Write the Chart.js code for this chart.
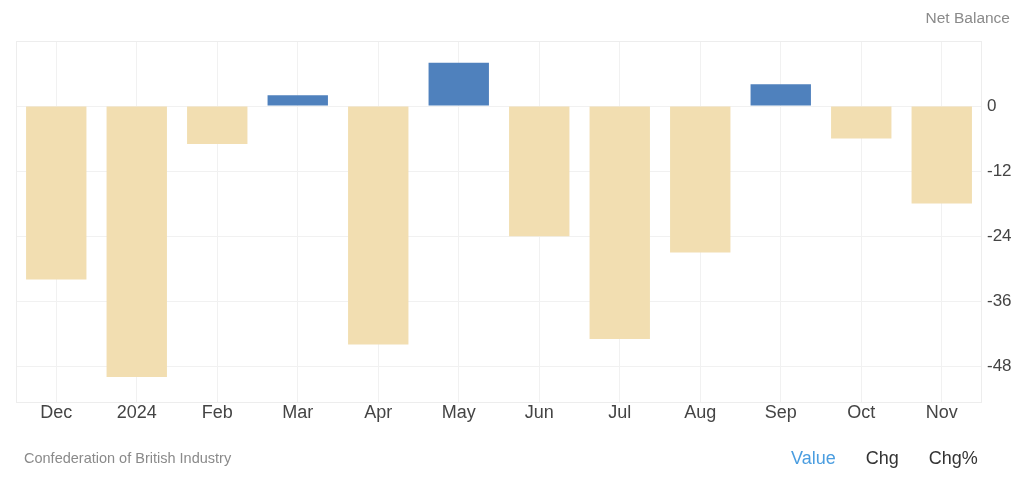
<!DOCTYPE html>
<html>
<head>
<meta charset="utf-8">
<script src="https://cdn.jsdelivr.net/npm/chart.js@4.4.1/dist/chart.umd.min.js"></script>
<style>
  html, body { margin: 0; padding: 0; background: #fff; }
  #wrap { position: relative; width: 1024px; height: 482px; font-family: "Liberation Sans", Arial, sans-serif; }
  #wrap canvas { position: absolute; left: 0; top: 0; }
  .txt { position: absolute; white-space: nowrap; line-height: 1; }
  #unit { right: 14px; top: 10px; font-size: 15.5px; color: #8a8a8a; }
  #src { left: 24px; top: 451px; font-size: 14.5px; color: #8a8a8a; }
  #tabs { left: 791px; top: 449px; font-size: 18px; color: #333; }
  #tabs span { margin-right: 30px; }
  #tabs span.on { color: #4a9de0; }
</style>
</head>
<body>
<div id="wrap">
  <canvas id="c" width="1024" height="482"></canvas>
  <div class="txt" id="unit">Net Balance</div>
  <div class="txt" id="src">Confederation of British Industry</div>
  <div class="txt" id="tabs"><span class="on">Value</span><span>Chg</span><span style="margin-right:0">Chg%</span></div>
</div>
<script>
const categories = ["Dec", "2024", "Feb", "Mar", "Apr", "May", "Jun", "Jul", "Aug", "Sep", "Oct", "Nov"];
const values = [-32, -50, -7, 2, -44, 8, -24, -43, -27, 4, -6, -18];
const yTicks = [0, -12, -24, -36, -48];
const yMin = -54.6;
const yMax = 12;

const POS = "#4f81bd";
const NEG = "#f2deb1";

const plotBorder = {
  id: "plotBorder",
  beforeDatasetsDraw(chart) {
    const a = chart.chartArea, ctx = chart.ctx;
    ctx.save();
    ctx.strokeStyle = "#ededed";
    ctx.lineWidth = 1;
    ctx.strokeRect(Math.round(a.left) + 0.5, Math.round(a.top) + 0.5, Math.round(a.right - a.left) - 1, Math.round(a.bottom - a.top));
    ctx.restore();
  }
};

new Chart(document.getElementById("c"), {
  type: "bar",
  data: {
    labels: categories,
    datasets: [{
      data: values,
      backgroundColor: values.map(v => v >= 0 ? POS : NEG),
      borderWidth: 0,
      barPercentage: 0.75,
      categoryPercentage: 1.0
    }]
  },
  options: {
    responsive: false,
    animation: false,
    layout: { padding: { left: 16, top: 41, right: 0, bottom: 0 } },
    plugins: { legend: { display: false }, tooltip: { enabled: false } },
    scales: {
      x: {
        offset: true,
        grid: { offset: false, color: "#f1f1f1", drawTicks: false },
        border: { display: false },
        ticks: { color: "#444", font: { family: "Liberation Sans", size: 18 }, padding: 0, maxRotation: 0, autoSkip: false },
        afterFit(s) { s.height = 80; }
      },
      y: {
        position: "right",
        min: yMin,
        max: yMax,
        afterBuildTicks(s) { s.ticks = yTicks.map(v => ({ value: v })); },
        grid: { color: "#f1f1f1", drawTicks: false },
        border: { display: false },
        ticks: { color: "#444", font: { family: "Liberation Sans", size: 17 }, padding: 5 },
        afterFit(s) { s.width = 42; }
      }
    }
  },
  plugins: [plotBorder]
});
</script>
</body>
</html>
